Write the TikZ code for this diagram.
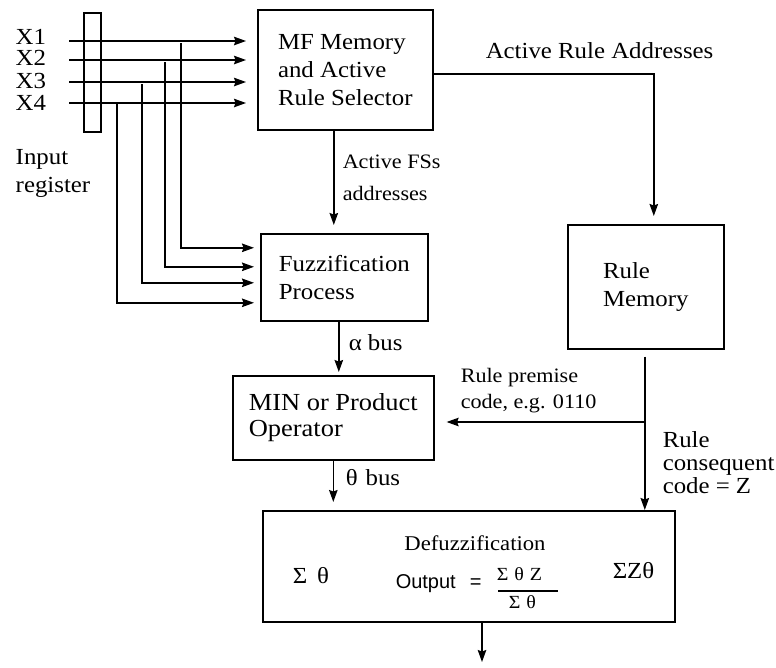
\documentclass[tikz,border=0pt]{standalone}
\usepackage{fontspec}
\setmainfont{Liberation Serif}[FakeStretch=1.08]
\setsansfont{Liberation Sans}
\usetikzlibrary{arrows.meta}
\usetikzlibrary{calc}

\begin{document}
\begin{tikzpicture}[x=1pt,y=-1pt,->,>={Stealth[length=12pt,width=8.5pt,inset=1.5pt]},line width=1.5pt]
			\tikzset{block/.style = {shape=rectangle, draw, line width=1.6pt, align=left, inner sep=0pt, font=\fontsize{23}{28}\selectfont}}
			\tikzset{lbl/.style = {inner sep=0pt, anchor=base west, align=left, font=\fontsize{23}{28}\selectfont}}
			\tikzset{small/.style = {font=\fontsize{20.5}{26}\selectfont}}
			\useasboundingbox (0,0) rectangle (776,667);
			
			% blocks
			\node[block, minimum width=17pt, minimum height=119pt, anchor=north west] (INREG) at (83,12) {};
			\node[block, minimum width=175pt, minimum height=120pt, anchor=north west] (MFMEM) at (257,9)
			{MF Memory\\and Active\\Rule Selector};
			\node[block, minimum width=167pt, minimum height=87pt, anchor=north west] (FUZZ) at (260,233)
			{Fuzzification\\Process};
			\node[block, minimum width=156pt, minimum height=124pt, anchor=north west] (RULEMEM) at (567,224)
			{Rule\\Memory};
			\node[block, minimum width=201pt, minimum height=84pt, anchor=north west, font=\fontsize{24.5}{26}\selectfont] (MINOP) at (232,375)
			{MIN or Product\\Operator};
			\node[block, minimum width=412pt, minimum height=111pt, anchor=north west] (DEFUZZ) at (262,510) {};
			
			% inside the defuzzification block
			\node[lbl, font=\fontsize{21}{26}\selectfont, anchor=base] (DEFTITLE) at (475,550) {Defuzzification};
			\node[lbl] (SUMTHETA) at (292,583) {Σ\hspace{10pt}θ};
			\node[lbl, font=\sffamily\fontsize{20}{24}\selectfont] (OUTLBL) at (395,588) {Output};
			\node[lbl, font=\sffamily\fontsize{20}{24}\selectfont] (EQSIGN) at (469,588) {=};
			\node[lbl, font=\fontsize{18.5}{22}\selectfont] (FRACNUM) at (496,580) {Σ\hspace{6pt}θ\hspace{6pt}Z};
			\draw[-, line width=1.5pt] (498,591) -- (558,591);
			\node[lbl, font=\fontsize{18.5}{22}\selectfont] (FRACDEN) at (508,608) {Σ\hspace{6pt}θ};
			\node[lbl] (SUMZTHETA) at (612,578) {ΣZθ};
			
			% input register
			\foreach \i/\yb in {1/44,2/65,3/88,4/110}
				\node[lbl] (XLBL\i) at (15,\yb) {X\i};
			\node[lbl] (INLBL) at (15,192) {Input\\register};
			
			\foreach \i/\yy in {1/41,2/60,3/82,4/103}
				\coordinate (IN\i) at (69,\yy);
			\foreach \i in {1,...,4}
				\draw[shorten >=11pt] (IN\i) -- (IN\i -| MFMEM.west);
			
			\coordinate (TAP1) at (181,43);
			\coordinate (TAP2) at (165,62);
			\coordinate (TAP3) at (142,84);
			\coordinate (TAP4) at (117,103);
			\foreach \i/\dy in {1/29.5,2/10.5,3/-5.5,4/-25.5}
				\draw[shorten >=6pt] (TAP\i) |- ([yshift=\dy pt]FUZZ.west);
			
			% addresses
			\draw[shorten >=8pt] ([yshift=-4pt]MFMEM.east) -| ([xshift=8pt]RULEMEM.north);
			\node[lbl] (ARADDR) at (485,58) {Active Rule Addresses};
			\draw[shorten >=8pt] ([xshift=-11.5pt]MFMEM.south) -- ([xshift=-11.5pt]MFMEM.south |- FUZZ.north);
			\node[lbl, font=\fontsize{20.5}{32}\selectfont] (FSADDR) at (342,200) {Active FSs\\addresses};
			
			% buses
			\draw[shorten >=3pt] ([xshift=-5.5pt]FUZZ.south) -- ([xshift=-5.5pt]FUZZ.south |- MINOP.north);
			\node[lbl] (ALPHABUS) at (348,350) {α bus};
			\draw[shorten >=8pt] (MINOP.south) -- (MINOP.south |- DEFUZZ.north);
			\node[lbl] (THETABUS) at (345,485) {θ\hspace{8pt}bus};
			
			% rule memory outputs
			\draw[shorten <=7pt] ([xshift=-1pt]RULEMEM.south) -- ([xshift=-1pt]RULEMEM.south |- DEFUZZ.north);
			\coordinate (SPLIT) at (644,422);
			\draw[shorten >=12pt] (SPLIT) -- (SPLIT -| MINOP.east);
			\node[lbl, font=\fontsize{20.5}{26}\selectfont] (PREMISE) at (460,408) {Rule premise\\code, e.g. 0110};
			\node[lbl, font=\fontsize{23}{23}\selectfont] (CONSEQ) at (662,493) {Rule\\consequent\\code =\hspace{6pt}Z};
			
			\coordinate (OUTEND) at (482,662);
			\draw (DEFUZZ.south -| OUTEND) -- (OUTEND);
			
			\end{tikzpicture}
\end{document}
